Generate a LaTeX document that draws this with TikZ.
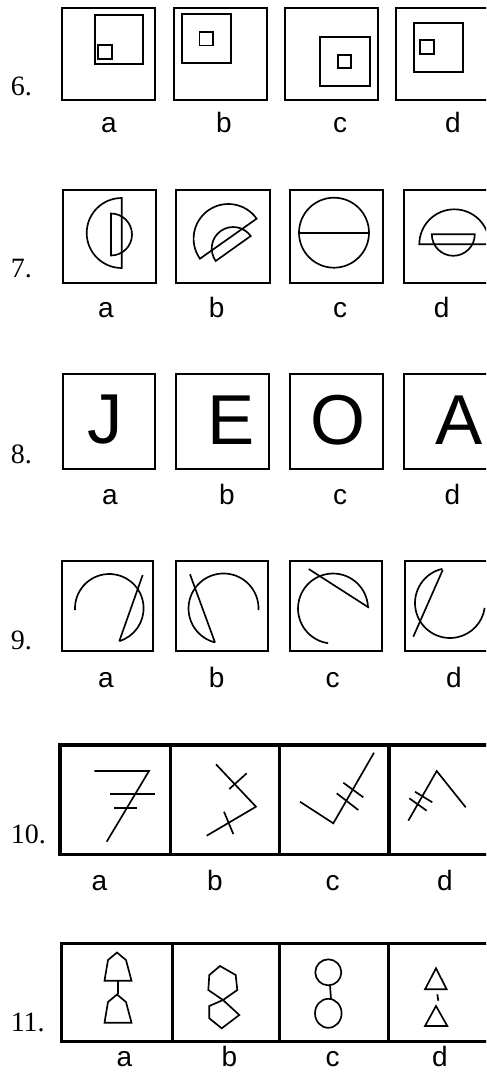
\documentclass[tikz,border=0pt]{standalone}
\usepackage{fontspec}
\setmainfont{Liberation Serif}
\setsansfont{Liberation Sans}

\begin{document}
\begin{tikzpicture}[
  x=0.75pt, y=-0.75pt,
  frame/.style={draw, line width=1.5pt},
  heavy/.style={draw, line width=2.6pt},
  inner/.style={draw, line width=1pt},
  fig/.style={draw, line width=1.25pt},
  lab/.style={font=\sffamily\fontsize{21}{21}\selectfont, anchor=base, inner sep=0pt},
  num/.style={font=\fontsize{21}{21}\selectfont, anchor=base west, inner sep=0pt},
  letter/.style={font=\sffamily\fontsize{53}{53}\selectfont, inner sep=0pt}
]
\useasboundingbox (0,0) rectangle (486,1072);
\clip (0,0) rectangle (486,1072);

% question 6
\node[num] (n6) at (10.5,95) {6.};
\foreach \xa/\xb in {62/155,174/266.5,285/377.7,396/489}
  \draw[frame] (\xa,8) rectangle (\xb,100);
\draw[inner] (95,15) rectangle (143,64);
\draw[inner] (98,45) rectangle (112,59);
\draw[inner] (182,14) rectangle (231,63);
\draw[inner] (199.5,32) rectangle (213,45.5);
\draw[inner] (320,37) rectangle (370,86);
\draw[inner] (338,55) rectangle (351,68);
\draw[inner] (414,23) rectangle (463,72);
\draw[inner] (420,40) rectangle (434,54);
\foreach \l/\x in {a/109,b/224,c/340,d/453}
  \node[lab] (l6\l) at (\x,132.5) {\l};

% question 7
\node[num] (n7) at (10.5,277.3) {7.};
\foreach \xa/\xb in {62.5/156,176/270,290/383,404/497}
  \draw[frame] (\xa,190) rectangle (\xb,283);
\draw[fig] (121.7,198) arc[start angle=-90, end angle=-270, radius=35] -- cycle;
\draw[fig] (111,213.5) arc[start angle=-90, end angle=90, radius=21] -- cycle;
\draw[fig] (228.3,238.7) ++(-35.2:34.7) arc[start angle=-35.2, end angle=-215.2, radius=34.7] -- cycle;
\draw[fig] (233.2,248.5) ++(-35.5:21.5) arc[start angle=-35.5, end angle=-215.5, radius=21.5] -- cycle;
\draw[fig] (334,232.7) circle[radius=35];
\draw[fig] (299,232.7) -- (369,232.7);
\draw[fig] (489.3,244.3) arc[start angle=0, end angle=-180, radius=35] -- cycle;
\draw[fig] (431.8,234.3) arc[start angle=180, end angle=0, radius=21.5] -- cycle;
\foreach \l/\x in {a/105.8,b/216.7,c/340,d/441.7}
  \node[lab] (l7\l) at (\x,317.7) {\l};

% question 8
\node[num] (n8) at (10.5,463.3) {8.};
\foreach \xa/\xb in {62.5/155.3,176/269.3,290/383.3,404.3/497}
  \draw[frame] (\xa,374) rectangle (\xb,469.3);
\foreach \t/\x in {J/105.5,E/231.3,O/338.3,A/459}
  \node[letter] (g\t) at (\x,420) {\t};
\foreach \l/\x in {a/110,b/227,c/340,d/452.5}
  \node[lab] (l8\l) at (\x,504) {\l};

% question 9
\node[num] (n9) at (10.5,649.3) {9.};
\foreach \xa/\xb in {62/153.3,176/268,290/382.3,405/498}
  \draw[frame] (\xa,561) rectangle (\xb,651);
\draw[fig] (75.05,610.1) arc[start angle=-183, end angle=73, radius=34.3];
\draw[fig] (119.3,641.1) -- (142.7,575);
\draw[fig] (258.5,610) arc[start angle=2.5, end angle=-256, radius=35];
\draw[fig] (215,642.5) -- (190,574.3);
\draw[fig] (368,607.3) arc[start angle=-2, end angle=-262, radius=35];
\draw[fig] (308.7,569) -- (369,607.7);
\draw[fig] (450,603) ++(-102.5:35) arc[start angle=-102.5, end angle=-352, radius=35];
\draw[fig] (413.3,636.7) -- (442.7,570);
\foreach \l/\x in {a/105.8,b/216.7,c/332.5,d/454}
  \node[lab] (l9\l) at (\x,687.3) {\l};

% question 10
\node[num] (n10) at (10.5,843.3) {10.};
\draw[heavy] (60,745) rectangle (500,854.3);
\foreach \x in {170.7,279.3,389}
  \draw[heavy] (\x,745) -- (\x,854.3);
\draw[fig] (94.3,771) -- (149,771) -- (106.7,841.7);
\draw[fig] (110,794.3) -- (155,794.3);
\draw[fig, line width=1.7pt] (114.3,808.3) -- (136.7,808.3);
\draw[fig] (216,764.3) -- (256,806.7) -- (206.7,835.7);
\draw[fig] (229.3,789) -- (246.7,773.3);
\draw[fig] (224,811.7) -- (233.3,834);
\draw[fig] (300,801.7) -- (333.3,823.3) -- (374,752.7);
\draw[fig] (336.7,793.3) -- (358.3,810);
\draw[fig] (343.3,782.7) -- (363.3,797.3);
\draw[fig] (408.3,820.7) -- (436.7,771) -- (465.7,807.3);
\draw[fig] (409.3,798.3) -- (426.7,810.7);
\draw[fig] (415,791.7) -- (432.3,802.3);
\foreach \l/\x in {a/99.3,b/215,c/332.7,d/445}
  \node[lab] (l10\l) at (\x,890) {\l};

% question 11
\node[num] (n11) at (10.5,1031.7) {11.};
\draw[heavy] (61.7,943.3) rectangle (500,1041.7);
\foreach \x in {172.3,279.3,388.3}
  \draw[heavy] (\x,943.3) -- (\x,1041.7);
\foreach \dy in {0,42}
  \draw[fig, yshift=-\dy*0.75pt] (104.5,980.7) -- (108,960) -- (117,952.5) -- (126,960) -- (131.5,980.7) -- cycle;
\draw[fig] (118.3,980.7) -- (118.3,994);
\draw[fig] (223,1000) -- (237.3,990) -- (235.7,975) -- (220,966) -- (209.3,975) -- (208.3,990) -- cycle;
\draw[fig] (223,1000) -- (209.3,1006) -- (209.3,1018.3) -- (221.7,1028.3) -- (239.3,1015) -- cycle;
\draw[fig] (328.3,972.3) circle[radius=13];
\draw[fig] (328.3,1013.3) circle[x radius=13.3, y radius=14.5];
\draw[fig] (330,985.3) -- (331,998.8);
\draw[fig] (425,989.3) -- (436,968.3) -- (446.7,989.3) -- cycle;
\draw[fig] (425,1026) -- (436,1006) -- (447.3,1026) -- cycle;
\draw[fig] (437.3,994.3) -- (438.3,1000.7);
\foreach \l/\x in {a/124.5,b/229.5,c/332.7,d/440}
  \node[lab] (l11\l) at (\x,1066) {\l};
\end{tikzpicture}
\end{document}
